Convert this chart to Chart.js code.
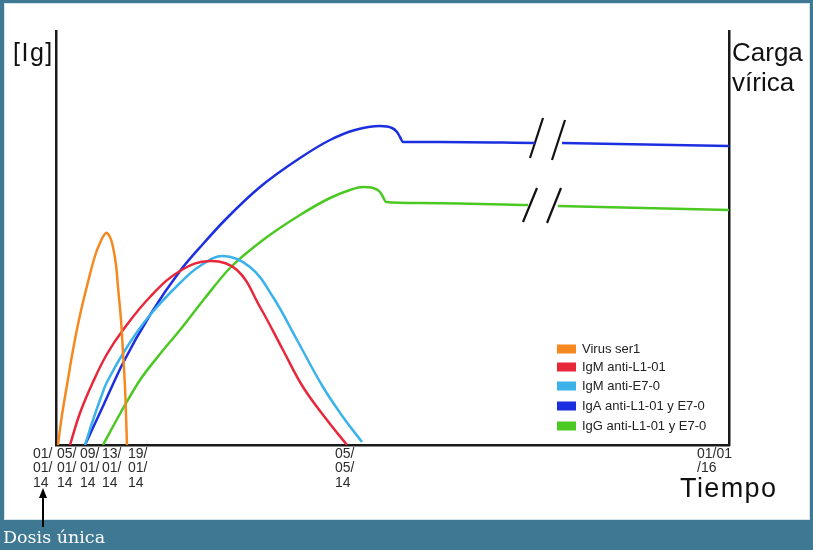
<!DOCTYPE html>
<html>
<head>
<meta charset="utf-8">
<script src="https://cdn.jsdelivr.net/npm/chart.js@4.4.1/dist/chart.umd.min.js"></script>
<style>
html,body{margin:0;padding:0;}
body{width:813px;height:550px;background:#3e7893;position:relative;overflow:hidden;font-family:"Liberation Sans",Arial,sans-serif;}
#panel{position:absolute;left:4px;top:3px;width:806px;height:517px;background:#fff;border:1px solid #d4e4ee;box-sizing:border-box;}
#wrap{position:absolute;left:0;top:0;width:813px;height:550px;}
.lbl{position:absolute;color:#111;white-space:nowrap;}
#ig{left:13px;top:38px;font-size:25px;letter-spacing:1.5px;}
#carga{left:732px;top:37px;font-size:26px;line-height:30px;}
#tiempo{left:680px;top:473px;font-size:27px;letter-spacing:1.4px;}
#dosis{position:absolute;left:3px;top:527px;font-family:"DejaVu Serif",serif;font-size:17.5px;color:#fff;white-space:nowrap;}
#arrowLine{position:absolute;left:42px;top:496px;width:2px;height:31px;background:#000;}
#arrowHead{position:absolute;left:39px;top:488px;width:0;height:0;border-left:4px solid transparent;border-right:4px solid transparent;border-bottom:10px solid #000;}
</style>
</head>
<body>
<div id="panel"></div>
<div id="wrap"><canvas id="c" width="813" height="550"></canvas></div>
<div class="lbl" id="ig">[Ig]</div>
<div class="lbl" id="carga">Carga<br>vírica</div>
<div class="lbl" id="tiempo">Tiempo</div>
<div id="arrowLine"></div>
<div id="arrowHead"></div>
<div id="dosis">Dosis única</div>
<script>
// ---- tick labels (dates) ----
const tickPositions = [2, 26, 49, 71, 97, 304, 666];
const tickLabels = [
  ["01/","01/","14"], ["05/","01/","14"], ["09/","01/","14"],
  ["13/","01/","14"], ["19/","01/","14"], ["05/","05/","14"], ["01/01","/16"]
];

// ---- series (time units, relative level) ----
const seriesNames = ["Virus ser1", "IgM anti-L1-01", "IgM anti-E7-0", "IgA anti-L1-01 y E7-0", "IgG anti-L1-01 y E7-0"];

const virusX = [2, 6, 11, 17, 24, 32, 39, 44, 50, 54, 57, 60, 62, 65, 67, 69, 71];
const virusY = [0, 30, 60, 95, 130, 163, 189, 202, 212, 208, 198, 180, 158, 125, 92, 58, 0];

const igmL1X = [14, 24, 37, 51, 67, 94, 124, 154, 181, 204, 227, 247, 271, 291];
const igmL1Y = [0, 32, 63, 91, 115, 148, 174, 184, 175, 138, 95, 58, 25, 0];

const igmE7X = [29, 37, 44, 51, 71, 94, 124, 144, 167, 194, 217, 241, 267, 287, 306];
const igmE7Y = [0, 25, 45, 63, 98, 130, 162, 179, 189, 178, 148, 105, 58, 28, 3];

const igaX = [29, 48, 67, 94, 124, 147, 169, 204, 244, 274, 299, 324, 336, 341, 344, 347, 384, 479, 490, 506, 673];
const igaY = [0, 41, 82, 130, 174, 201, 225, 258, 287, 305, 315, 319, 317, 313, 308, 303, 303, 302, null, 302, 299];

const iggX = [47, 65, 84, 104, 124, 149, 174, 207, 244, 274, 294, 307, 317, 324, 327, 330, 364, 472, 487, 502, 673];
const iggY = [0, 33, 65, 91, 115, 147, 177, 205, 230, 247, 255, 258, 257, 253, 248, 243, 242, 240, null, 239, 235];

// axis-break marks "//"
const breakMarkX = [[474, 487], [496, 509], [467, 481], [491, 505]];
const breakMarkY = [[287, 327], [285, 325], [223, 257], [222, 257]];

const colors = ["#f5891f", "#e8283a", "#3bb2ea", "#1c2fe0", "#4cc823"];
const interp = ["default", "default", "default", "monotone", "monotone"];

function pts(xs, ys) { return xs.map((x, i) => ({x: x, y: ys[i]})); }

const seriesData = [
  pts(virusX, virusY), pts(igmL1X, igmL1Y), pts(igmE7X, igmE7Y), pts(igaX, igaY), pts(iggX, iggY)
];

const datasets = seriesData.map((d, i) => ({
  label: seriesNames[i],
  data: d,
  borderColor: colors[i],
  backgroundColor: colors[i],
  borderWidth: 2.5,
  pointRadius: 0,
  fill: false,
  tension: 0.4,
  cubicInterpolationMode: interp[i],
  spanGaps: false,
  inLegend: true
}));

breakMarkX.forEach((xs, i) => {
  datasets.push({
    label: '',
    data: pts(xs, breakMarkY[i]),
    borderColor: '#111',
    borderWidth: 2.2,
    pointRadius: 0,
    tension: 0,
    fill: false,
    inLegend: false
  });
});

const legendRows = [349, 367, 386, 406, 426];
const boxLegend = {
  id: 'boxLegend',
  afterDatasetsDraw(chart) {
    const ctx = chart.ctx;
    const left = chart.chartArea.right - 172;
    let row = 0;
    ctx.save();
    ctx.font = '13px "Liberation Sans", Arial, sans-serif';
    ctx.textBaseline = 'middle';
    chart.data.datasets.forEach(ds => {
      if (!ds.inLegend) return;
      const y = legendRows[row];
      ctx.fillStyle = ds.borderColor;
      ctx.fillRect(left, y - 4.5, 19, 9);
      ctx.fillStyle = '#222';
      ctx.fillText(ds.label, left + 25, y);
      row++;
    });
    ctx.restore();
  }
};

new Chart(document.getElementById('c'), {
  type: 'line',
  data: { datasets: datasets },
  options: {
    responsive: false,
    animation: false,
    layout: { padding: { left: 56, top: 31, right: 84, bottom: 45 } },
    plugins: { legend: { display: false }, tooltip: { enabled: false } },
    scales: {
      x: {
        type: 'linear', min: 0, max: 673,
        grid: { display: false, drawTicks: false },
        border: { display: true, color: '#1a1a1a', width: 2.5 },
        afterBuildTicks: s => { s.ticks = tickPositions.map(v => ({value: v})); },
        afterFit: s => { s.height = 60; },
        ticks: {
          autoSkip: false, maxRotation: 0, minRotation: 0,
          align: 'start', labelOffset: -25, padding: 2,
          color: '#2b2b2b',
          font: { family: '"Liberation Sans", Arial, sans-serif', size: 14, lineHeight: 1.02 },
          callback: (v, i) => tickLabels[i]
        }
      },
      y: {
        type: 'linear', min: 0, max: 414, position: 'left',
        grid: { display: false, drawTicks: false },
        ticks: { display: false },
        border: { display: true, color: '#1a1a1a', width: 2.5 },
        afterFit: s => { s.width = 0; }
      },
      y2: {
        type: 'linear', min: 0, max: 414, position: 'right',
        grid: { display: false, drawTicks: false },
        ticks: { display: false },
        border: { display: true, color: '#1a1a1a', width: 2.5 },
        afterFit: s => { s.width = 0; }
      }
    }
  },
  plugins: [boxLegend]
});
</script>
</body>
</html>
